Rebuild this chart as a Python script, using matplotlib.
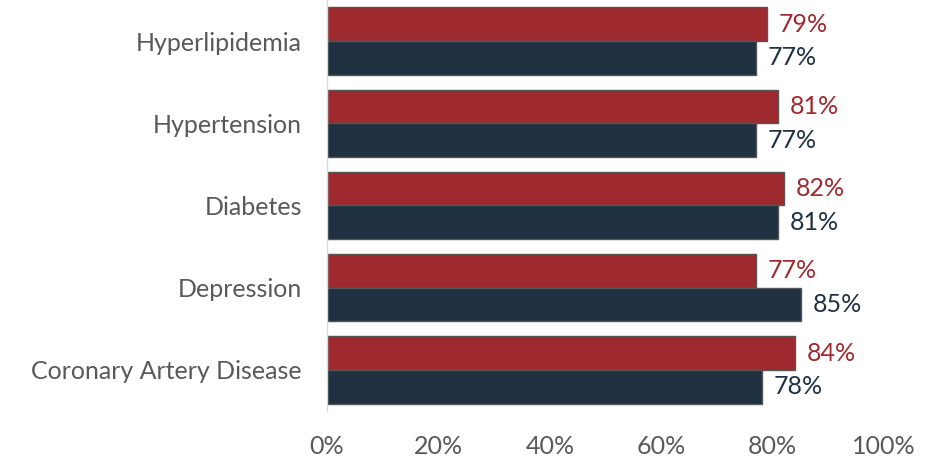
import matplotlib
matplotlib.use("Agg")
import matplotlib.pyplot as plt
import numpy as np

plt.rcParams['font.family'] = ['Lato', 'DejaVu Sans']

categories = ["Coronary Artery Disease", "Depression", "Diabetes", "Hypertension", "Hyperlipidemia"]
red_values = [84, 77, 82, 81, 79]
navy_values = [78, 85, 81, 77, 77]
xtick_labels = ["0%", "20%", "40%", "60%", "80%", "100%"]

red = "#9E2A30"
navy = "#1F3141"
gray = "#595959"

fig = plt.figure(figsize=(9.46, 4.61), dpi=100)
ax = fig.add_axes([0.3457, 0.1085, 0.589, 0.8915])

y = np.arange(len(categories))
h = 0.41
ax.barh(y + h / 2, red_values, height=h, color=red, edgecolor="#555555", linewidth=1)
ax.barh(y - h / 2, navy_values, height=h, color=navy, edgecolor="#555555", linewidth=1)

for yi, v in zip(y, red_values):
    ax.text(v + 2.1, yi + h / 2, f"{v}%", color=red, fontsize=18, va="center", ha="left")
for yi, v in zip(y, navy_values):
    ax.text(v + 2.1, yi - h / 2, f"{v}%", color=navy, fontsize=18, va="center", ha="left")

ax.set_xlim(0, 100)
ax.set_ylim(-0.5, 4.5)
ax.set_yticks(y)
ax.set_yticklabels(categories, color=gray, fontsize=18)
ax.set_xticks([0, 20, 40, 60, 80, 100])
ax.set_xticklabels(xtick_labels, color=gray, fontsize=18)
ax.tick_params(axis="both", length=0)
ax.tick_params(axis="y", pad=18)
ax.tick_params(axis="x", pad=17)

for s in ["top", "right", "bottom"]:
    ax.spines[s].set_visible(False)
ax.spines["left"].set_color("#D9D9D9")
ax.spines["left"].set_linewidth(1)

fig.savefig("out.png", dpi=100)
